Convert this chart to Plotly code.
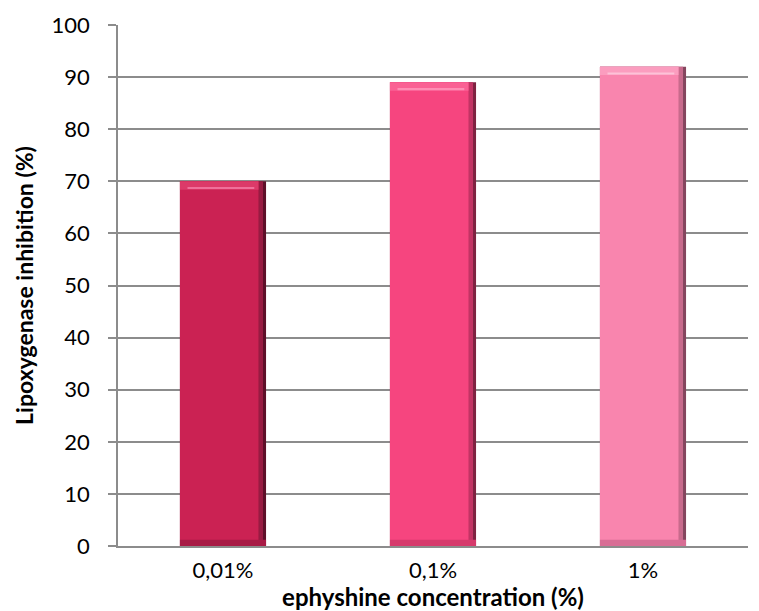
import plotly.graph_objects as go

# Lipoxygenase inhibition by ephyshine concentration
concentrations = ["0,01%", "0,1%", "1%"]
inhibition = [70, 89, 92]

# Bar colours: main face, top bevel, shine line, right-edge shading, bottom bevel
face_colors = ["#CB2253", "#F6457F", "#F985AE"]
top_colors = ["#DC3A69", "#FA6194", "#FB9DBF"]
shine_colors = ["#F0709A", "#FF8DB4", "#FDC2D8"]
shadow_colors = ["#5E1029", "#7E2341", "#84465E"]
midshadow_colors = ["#981B42", "#C23464", "#C86A8C"]
bottom_colors = ["#A81A45", "#D63A6C", "#D86E95"]

BAR_W = 0.41
EDGE = 0.036      # width of the shaded right edge (category units)
TOP_BEVEL = 1.6   # height of the top bevel (value units)
BOTTOM_BEVEL = 1.2

fig = go.Figure()

# outer bar carries the darkest right-hand shadow
fig.add_trace(go.Bar(
    x=concentrations, y=inhibition, width=BAR_W,
    marker=dict(color=shadow_colors, line=dict(width=0)),
    hoverinfo="skip", showlegend=False,
))
# intermediate shade so the right edge reads as a gradient
fig.add_trace(go.Bar(
    x=concentrations, y=inhibition, width=BAR_W - EDGE / 2.5, offset=-BAR_W / 2,
    marker=dict(color=midshadow_colors, line=dict(width=0)),
    hoverinfo="skip", showlegend=False,
))
# main face of each bar
fig.add_trace(go.Bar(
    x=concentrations, y=inhibition, width=BAR_W - EDGE, offset=-BAR_W / 2,
    marker=dict(color=face_colors, line=dict(width=0)),
    name="Lipoxygenase inhibition", showlegend=False,
))
# lighter top bevel band
fig.add_trace(go.Bar(
    x=concentrations, y=[TOP_BEVEL] * len(inhibition),
    base=[v - TOP_BEVEL for v in inhibition],
    width=BAR_W - EDGE, offset=-BAR_W / 2,
    marker=dict(color=top_colors, line=dict(width=0)),
    hoverinfo="skip", showlegend=False,
))
# thin shine line under the top bevel
fig.add_trace(go.Bar(
    x=concentrations, y=[0.4] * len(inhibition),
    base=[v - TOP_BEVEL + 0.1 for v in inhibition],
    width=BAR_W - 2 * EDGE - 0.02, offset=-BAR_W / 2 + EDGE,
    marker=dict(color=shine_colors, line=dict(width=0)),
    hoverinfo="skip", showlegend=False,
))
# darker bottom bevel band
fig.add_trace(go.Bar(
    x=concentrations, y=[BOTTOM_BEVEL] * len(inhibition),
    width=BAR_W, offset=-BAR_W / 2,
    marker=dict(color=bottom_colors, line=dict(width=0)),
    hoverinfo="skip", showlegend=False,
))

font_family = "Lato, 'Liberation Sans', Arial, sans-serif"

fig.update_layout(
    width=759, height=611,
    margin=dict(l=118, r=11, t=22, b=63),
    paper_bgcolor="white", plot_bgcolor="white",
    barmode="overlay",
    bargap=0.59,
    font=dict(family=font_family, color="black", size=22),
    xaxis=dict(
        type="category",
        showgrid=False,
        showline=True, linecolor="#8C8C8C", linewidth=1.5,
        ticks="", tickfont=dict(size=22),
        ticklabelstandoff=4,
        title=dict(text="<b>ephyshine concentration (%)</b>",
                   font=dict(size=24), standoff=0),
    ),
    yaxis=dict(
        range=[0, 100], dtick=10,
        showgrid=True, gridcolor="#8C8C8C", gridwidth=1.5,
        showline=True, linecolor="#8C8C8C", linewidth=1.5,
        ticks="outside", ticklen=8, tickcolor="#8C8C8C", tickwidth=1.5,
        tickfont=dict(size=22),
        ticklabelstandoff=14,
        zeroline=False,
        title=dict(text="<b>Lipoxygenase inhibition (%)</b>",
                   font=dict(size=23), standoff=12),
    ),
)

fig.write_html("out.html")
